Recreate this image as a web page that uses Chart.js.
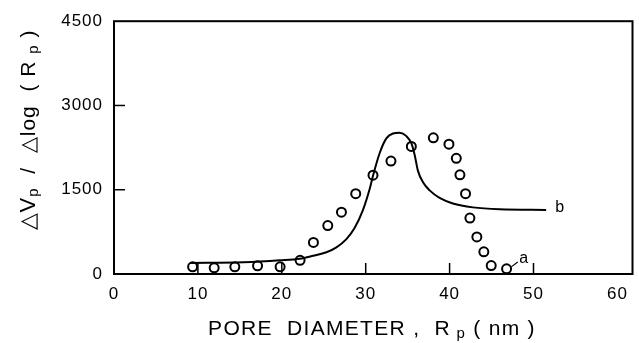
<!DOCTYPE html>
<html>
<head>
<meta charset="utf-8">
<script src="https://cdn.jsdelivr.net/npm/chart.js@4"></script>
<style>
  html, body { margin: 0; padding: 0; background: #fff; }
  #wrap { width: 639px; height: 343px; }
</style>
</head>
<body>
<div id="wrap"><canvas id="poreChart" width="639" height="343"></canvas></div>
<script>
// measured points (curve a)
const poreX = [9.37, 11.94, 14.40, 17.11, 19.80, 22.18, 23.77, 25.48, 27.11, 28.81, 30.87, 33.01,
               35.44, 38.06, 39.92, 40.80, 41.23, 41.90, 42.42, 43.25, 44.08, 44.96, 46.79];
const poreY = [127, 110, 127, 145, 127, 243, 561, 863, 1100, 1430, 1760, 2010,
               2270, 2425, 2310, 2060, 1765, 1430, 995, 660, 394, 151, 92];

// fitted curve (b)
const fitX = [9.05, 15.39, 19.80, 22.14, 23.73, 25.32, 26.51, 27.70, 28.69, 29.68, 30.48, 30.87,
              31.67, 32.46, 33.25, 34.05, 34.85, 35.44, 35.83, 36.23, 36.83, 37.62, 38.81,
              40.39, 42.77, 45.95, 51.51];
const fitY = [196, 208, 243, 272, 325, 387, 474, 620, 822, 1141, 1516, 1749,
              2154, 2414, 2501, 2513, 2454, 2328, 2124, 1836, 1633, 1489, 1355,
              1256, 1186, 1152, 1141];

const xTicks = [0, 10, 20, 30, 40, 50, 60];
const yTicks = [0, 1500, 3000, 4500];

const FONT = "'Liberation Sans', Arial, sans-serif";

// frame, inward tick marks, curve labels, axis titles with subscripts
const decor = {
    id: "decor",
    beforeLayout(chart) { chart.ctx.letterSpacing = "1px"; },
    beforeDraw(chart) { chart.ctx.letterSpacing = "1px"; },
    afterDraw(chart) {
        const ctx = chart.ctx;
        const a = chart.chartArea;
        const xs = chart.scales.x, ys = chart.scales.y;
        ctx.save();
        ctx.strokeStyle = "#000";
        ctx.lineWidth = 2;
        ctx.strokeRect(a.left, a.top, a.right - a.left, a.bottom - a.top);

        ctx.lineWidth = 1.5;
        xTicks.forEach(v => {
            if (v <= 0 || v >= 60) return;
            const px = xs.getPixelForValue(v);
            ctx.beginPath(); ctx.moveTo(px, a.bottom); ctx.lineTo(px, a.bottom - 11); ctx.stroke();
        });
        yTicks.forEach(v => {
            if (v <= 0 || v >= 4500) return;
            const py = ys.getPixelForValue(v);
            ctx.beginPath(); ctx.moveTo(a.left, py); ctx.lineTo(a.left + 11, py); ctx.stroke();
        });

        // leader line + labels
        ctx.lineWidth = 1.2;
        ctx.beginPath();
        ctx.moveTo(xs.getPixelForValue(47.35), ys.getPixelForValue(127));
        ctx.lineTo(xs.getPixelForValue(48.12), ys.getPixelForValue(214));
        ctx.stroke();
        ctx.fillStyle = "#000";
        ctx.letterSpacing = "0px";
        ctx.font = "16px " + FONT;
        ctx.textAlign = "left";
        ctx.textBaseline = "middle";
        ctx.fillText("a", xs.getPixelForValue(48.3), ys.getPixelForValue(270));
        ctx.fillText("b", xs.getPixelForValue(52.6), ys.getPixelForValue(1190));

        // axis titles
        const drawParts = (parts, x, y) => {
            let total = 0;
            parts.forEach(p => { ctx.font = p[1] + "px " + FONT; total += ctx.measureText(p[0]).width; });
            let cx = x - total / 2;
            parts.forEach(p => {
                ctx.font = p[1] + "px " + FONT;
                ctx.fillText(p[0], cx, y + p[2]);
                cx += ctx.measureText(p[0]).width;
            });
        };
        ctx.textAlign = "left";
        ctx.textBaseline = "alphabetic";
        ctx.letterSpacing = "1.3px";
        drawParts([["PORE  DIAMETER ,  R", 21, 0], [" p", 15, 3], [" ( nm )", 21, 0]],
                  372, 335);

        ctx.letterSpacing = "1px";
        ctx.translate(35, 130);
        ctx.rotate(-Math.PI / 2);
        drawParts([["\u25B3V", 22, 0], ["p", 15, 3], ["  /  \u25B3log  ( R ", 21, 0], ["p", 15, 3], [" )", 21, 0]],
                  0, 0);
        ctx.restore();
    }
};

const tickFont = { size: 17, family: FONT };

new Chart(document.getElementById("poreChart"), {
    type: "scatter",
    data: {
        datasets: [
            {
                label: "a",
                data: poreX.map((x, i) => ({ x: x, y: poreY[i] })),
                showLine: false,
                pointStyle: "circle",
                pointRadius: 4.5,
                pointBorderWidth: 2,
                pointBorderColor: "#000",
                pointBackgroundColor: "rgba(0,0,0,0)",
                order: 0
            },
            {
                label: "b",
                data: fitX.map((x, i) => ({ x: x, y: fitY[i] })),
                showLine: true,
                borderColor: "#000",
                borderWidth: 2,
                pointRadius: 0,
                cubicInterpolationMode: "monotone",
                order: 1
            }
        ]
    },
    options: {
        responsive: false,
        animation: false,
        layout: { padding: { left: 0, right: 6, top: 15, bottom: 0 } },
        plugins: { legend: { display: false }, tooltip: { enabled: false } },
        scales: {
            x: {
                type: "linear",
                min: 0,
                max: 61.8,
                afterBuildTicks: s => { s.ticks = xTicks.map(v => ({ value: v })); },
                afterFit: s => { s.height = 69; },
                grid: { display: false, drawTicks: false },
                border: { display: false },
                ticks: { color: "#000", padding: 10, font: tickFont, callback: v => String(v) }
            },
            y: {
                type: "linear",
                min: 0,
                max: 4500,
                afterBuildTicks: s => { s.ticks = yTicks.map(v => ({ value: v })); },
                afterFit: s => { s.width = 114; },
                grid: { display: false, drawTicks: false },
                border: { display: false },
                ticks: { color: "#000", padding: 11, font: tickFont, callback: v => String(v) }
            }
        }
    },
    plugins: [decor]
});
</script>
</body>
</html>
